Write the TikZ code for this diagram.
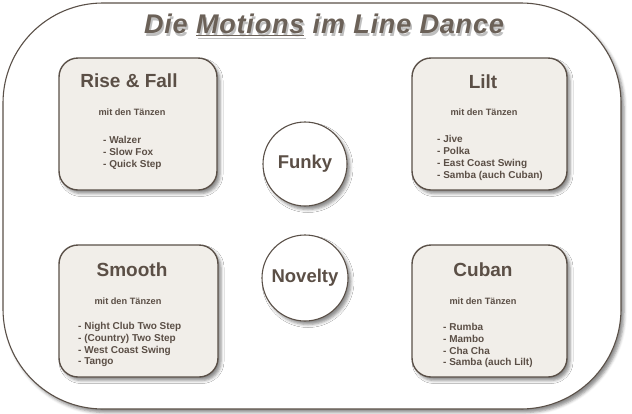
\documentclass[tikz,border=0pt]{standalone}
\usepackage{fontspec}
\setmainfont{Liberation Sans}
\newfontfamily\titelfont[LetterSpace=3]{Liberation Sans}
\usetikzlibrary{shadows.blur}
\definecolor{ink}{HTML}{5B4F46}
\definecolor{edge}{HTML}{5A5048}
\definecolor{paper}{HTML}{F1EEE9}
\begin{document}
\begin{tikzpicture}[x=1pt, y=-1pt,
		schatten/.style={blur shadow={shadow xshift=3pt, shadow yshift=-3.5pt, shadow blur radius=3pt, shadow opacity=45}},
		motion/.style={draw=edge, fill=paper, line width=1.4pt, rounded corners=19pt, minimum height=132pt, schatten},
		extra/.style={circle, draw=edge, fill=white, line width=1.1pt, text=ink, font=\fontsize{18.5}{20}\selectfont\bfseries, schatten},
		kopf/.style={text=ink, font=\fontsize{19}{21}\selectfont\bfseries},
		unter/.style={text=ink, font=\fontsize{9.2}{10}\selectfont\bfseries},
		liste/.style={text=ink, align=left, anchor=north west, inner sep=0pt, font=\fontsize{10}{11.8}\selectfont\bfseries}]
	\useasboundingbox (0,0) rectangle (632,413);

	% Rahmen und Titel
	\draw[draw=edge, fill=white, line width=1.1pt, rounded corners=100pt, schatten] (3,3) rectangle (621,409);
	\draw node[text=black!25, font=\titelfont\fontsize{27}{29}\selectfont\bfseries\itshape] (titelschatten) at (325.5,27.5) {Die \underline{Motions} im Line Dance};
	\draw node[text=ink!90, font=\titelfont\fontsize{27}{29}\selectfont\bfseries\itshape] (titel) at (324,25) {Die \underline{Motions} im Line Dance};

	% die vier Motions
	\draw node[motion, minimum width=158pt] (rise) at (138,124) {};
	\draw node[motion, minimum width=155pt] (lilt) at (489.5,124) {};
	\draw node[motion, minimum width=159pt] (smooth) at (138.5,311) {};
	\draw node[motion, minimum width=155pt] (cuban) at (489.5,311) {};

	\draw node[kopf] (risekopf) at (129,81) {Rise \& Fall};
	\draw node[unter] (riseunter) at (132,112) {mit den Tänzen};
	\draw node[liste] (riseliste) at (103,136) {- Walzer\\- Slow Fox\\- Quick Step};

	\draw node[kopf] (liltkopf) at (483,82) {Lilt};
	\draw node[unter] (liltunter) at (484,112) {mit den Tänzen};
	\draw node[liste] (liltliste) at (437,135.5) {- Jive\\- Polka\\- East Coast Swing\\- Samba (auch Cuban)};

	\draw node[kopf] (smoothkopf) at (132,270) {Smooth};
	\draw node[unter] (smoothunter) at (128,301) {mit den Tänzen};
	\draw node[liste] (smoothliste) at (78,322) {- Night Club Two Step\\- (Country) Two Step\\- West Coast Swing\\- Tango};

	\draw node[kopf] (cubankopf) at (483,270) {Cuban};
	\draw node[unter] (cubanunter) at (483,301) {mit den Tänzen};
	\draw node[liste] (cubanliste) at (443,323) {- Rumba\\- Mambo\\- Cha Cha\\- Samba (auch Lilt)};

	% Funky und Novelty
	\draw node[extra, minimum size=84pt] (funky) at (305,164) {Funky};
	\draw node[extra, minimum size=86pt] (novelty) at (305,278) {Novelty};
\end{tikzpicture}
\end{document}
